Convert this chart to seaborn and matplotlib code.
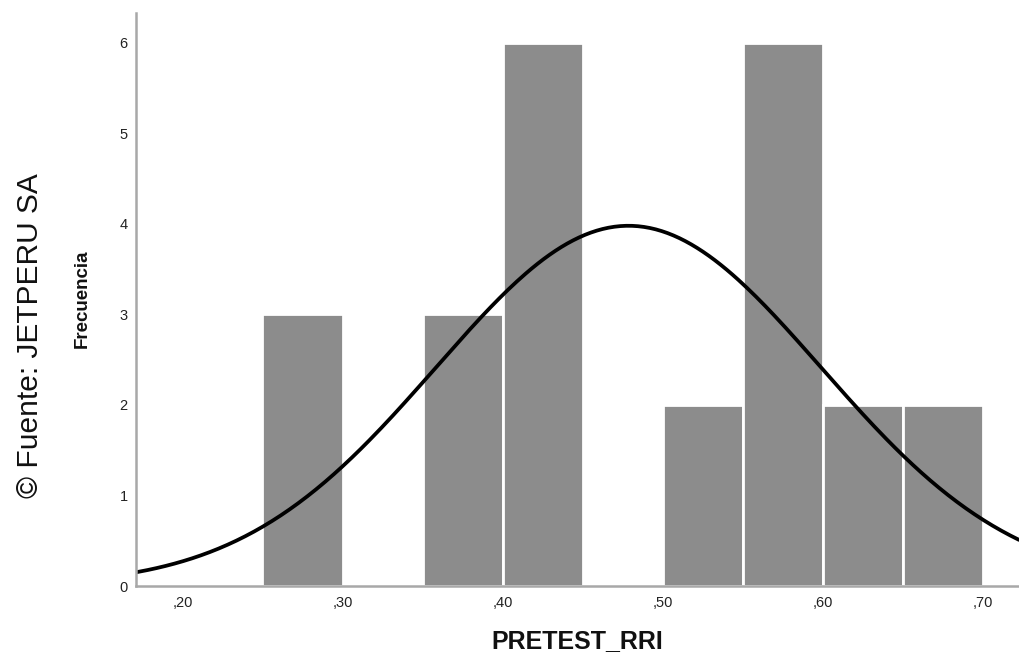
import numpy as np
import pandas as pd
import matplotlib
matplotlib.use("Agg")
import matplotlib.pyplot as plt
import seaborn as sns

bin_edges = [0.25, 0.30, 0.35, 0.40, 0.45, 0.50, 0.55, 0.60, 0.65, 0.70]
counts = [3, 0, 3, 6, 0, 2, 6, 2, 2]
tick_values = [0.20, 0.30, 0.40, 0.50, 0.60, 0.70]
tick_labels = [",20", ",30", ",40", ",50", ",60", ",70"]

# Curva normal ajustada (estimada de la imagen)
media = 0.4786
desv = 0.1203
n_total = sum(counts)
ancho = 0.05

sns.set_theme(style="white")
plt.rcParams['font.family'] = ['Liberation Sans', 'DejaVu Sans']

df = pd.DataFrame({
    "PRETEST_RRI": [(a + b) / 2 for a, b in zip(bin_edges[:-1], bin_edges[1:])],
    "n": counts,
})

fig = plt.figure(figsize=(10.19, 6.53), dpi=100)
ax = fig.add_axes([136 / 1019, 67 / 653, 1 - 136 / 1019, 573 / 653])

sns.histplot(data=df, x="PRETEST_RRI", weights="n", bins=bin_edges, ax=ax,
             color="#8c8c8c", alpha=1, edgecolor="white", linewidth=2)

# Curva normal
xs = np.linspace(0.171, 0.7225, 300)
ys = n_total * ancho * np.exp(-0.5 * ((xs - media) / desv) ** 2) / (desv * np.sqrt(2 * np.pi))
ax.plot(xs, ys, color="black", linewidth=2.7)

ax.set_xlim(0.171, 0.7225)
ax.set_ylim(0, 6.33)
ax.set_xticks(tick_values)
ax.set_xticklabels(tick_labels)
ax.set_yticks(range(0, 7))
ax.tick_params(axis="both", length=0, labelsize=10.5, colors="#222222")
ax.tick_params(axis="x", pad=7)
ax.tick_params(axis="y", pad=6)

for s in ["top", "right"]:
    ax.spines[s].set_visible(False)
for s in ["left", "bottom"]:
    ax.spines[s].set_color("#a8a8a8")
    ax.spines[s].set_linewidth(1.8)

ax.set_xlabel("PRETEST_RRI", fontsize=18, fontweight="bold", labelpad=14, color="#111111")
ax.set_ylabel("")
fig.text(82 / 1019, 1 - 299 / 653, "Frecuencia", rotation=90, fontsize=13.5,
         fontweight="bold", ha="center", va="center", color="#111111")
fig.text(30 / 1019, 1 - 336 / 653, "© Fuente: JETPERU SA", rotation=90,
         fontsize=21.5, ha="center", va="center", color="#111111")

fig.savefig("out.png", dpi=100)
